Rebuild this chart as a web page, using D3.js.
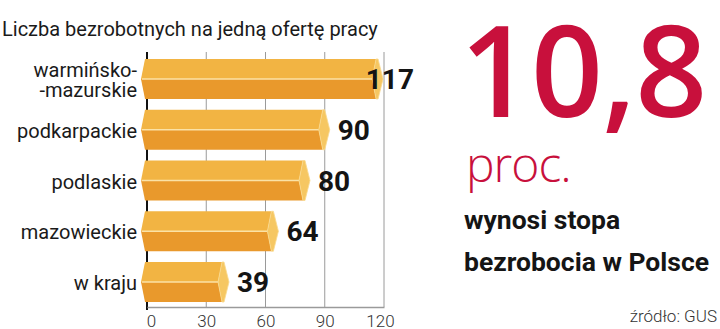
<!DOCTYPE html>
<html>
<head>
<meta charset="utf-8">
<script src="https://cdn.jsdelivr.net/npm/d3@7"></script>
<style>
  html, body { margin: 0; padding: 0; background: #fff; }
  svg { display: block; }
</style>
</head>
<body>
<svg id="chart" width="720" height="329"></svg>
<script>
// Unemployed persons per one job offer
const categories = [["warmińsko-", "-mazurskie"], ["podkarpackie"], ["podlaskie"], ["mazowieckie"], ["w kraju"]];
const values = [117, 90, 80, 64, 39];
const tickValues = [0, 30, 60, 90, 120];
const tickLabels = ["0", "30", "60", "90", "120"];

const title = "Liczba bezrobotnych na jedną ofertę pracy";
const headline = "10,8";
const unit = "proc.";
const caption = ["wynosi stopa", "bezrobocia w Polsce"];
const source = "źródło: GUS";

const svg = d3.select("#chart");
const FONT = "Roboto, 'Open Sans', sans-serif";

const x = d3.scaleLinear().domain([0, 120]).range([147, 384]);
const keys = categories.map((c, i) => i);
const y = d3.scaleBand().domain(keys).range([59, 302]).paddingInner(0.212);

// title
svg.append("text")
  .attr("x", 2).attr("y", 36)
  .attr("font-family", FONT).attr("font-size", 20)
  .attr("fill", "#1a1a1a")
  .text(title);

// vertical grid lines
const gTop = 52, gBottom = 307;
svg.append("g").selectAll("line")
  .data(tickValues.slice(1))
  .join("line")
  .attr("x1", d => x(d)).attr("x2", d => x(d))
  .attr("y1", gTop).attr("y2", gBottom)
  .attr("stroke", "#9a9a9a").attr("stroke-width", 1);

// zero line
svg.append("line")
  .attr("x1", x(0)).attr("x2", x(0))
  .attr("y1", gTop).attr("y2", gBottom + 3)
  .attr("stroke", "#111").attr("stroke-width", 2);

// bottom axis
const axis = d3.axisBottom(x).tickValues(tickValues)
  .tickFormat((d, i) => tickLabels[i]).tickSize(0).tickPadding(0);
const ax = svg.append("g").attr("transform", `translate(0,${gBottom})`).call(axis);
ax.select(".domain").attr("stroke", "#9a9a9a").attr("stroke-width", 1.5);
ax.selectAll("text")
  .attr("font-family", FONT).attr("font-size", 17).attr("font-weight", 300)
  .attr("fill", "#333").attr("y", 20).attr("dy", 0)
  .attr("dx", (d, i) => i === 0 ? 4 : (i === tickValues.length - 1 ? -4 : 0));

// bars: chevron-shaped body split in two shades with a light end cap
const bars = svg.append("g").selectAll("g")
  .data(values)
  .join("g");

const x0 = x(0) - 2;
function pts(arr) { return arr.map(p => p.join(",")).join(" "); }

bars.append("polygon")
  .attr("fill", "#f2b443")
  .attr("points", (d, i) => {
    const t = y(i), m = t + y.bandwidth() / 2, xv = x(d);
    return pts([[x0, t], [xv - 2, t], [xv - 6, m], [x0 - 4, m]]);
  });
bars.append("polygon")
  .attr("fill", "#e9992c")
  .attr("points", (d, i) => {
    const t = y(i), m = t + y.bandwidth() / 2, b = t + y.bandwidth(), xv = x(d);
    return pts([[x0 - 4, m], [xv - 6, m], [xv - 2, b], [x0, b]]);
  });
bars.append("line")
  .attr("x1", x0 - 3).attr("x2", d => x(d) - 6)
  .attr("y1", (d, i) => y(i) + y.bandwidth() / 2)
  .attr("y2", (d, i) => y(i) + y.bandwidth() / 2)
  .attr("stroke", "#fbe2a6").attr("stroke-width", 1.5);
bars.append("polygon")
  .attr("fill", "#f6c762")
  .attr("stroke", "#f9d98e").attr("stroke-width", 0.8)
  .attr("points", (d, i) => {
    const t = y(i), m = t + y.bandwidth() / 2, b = t + y.bandwidth(), xv = x(d);
    return pts([[xv - 2, t], [xv, t], [xv + 5, m], [xv, b], [xv - 2, b], [xv - 6, m]]);
  });

// value labels
const rightLimit = 414;
bars.append("text")
  .attr("font-family", FONT).attr("font-size", 28).attr("font-weight", 700)
  .attr("fill", "#141414")
  .attr("y", (d, i) => y(i) + y.bandwidth() / 2 + 10)
  .text(d => d)
  .each(function (d) {
    const w = this.getComputedTextLength();
    let xs = x(d) + 13;
    if (xs + w > rightLimit) xs = rightLimit - w;
    d3.select(this).attr("x", xs);
  });

// category labels
const lineH = 20;
svg.append("g").selectAll("text")
  .data(categories)
  .join("text")
  .attr("font-family", FONT).attr("font-size", 20)
  .attr("fill", "#1a1a1a").attr("text-anchor", "end")
  .attr("x", 137)
  .attr("y", (d, i) => y(i) + y.bandwidth() / 2 + 8 - (d.length - 1) * lineH / 2)
  .each(function (d) {
    d3.select(this).selectAll("tspan").data(d).join("tspan")
      .attr("x", 137).attr("dy", (t, j) => j === 0 ? 0 : lineH).text(t => t);
  });

// headline figure
svg.append("text")
  .attr("x", 460).attr("y", 117)
  .attr("font-family", "'Open Sans', sans-serif").attr("font-size", 126).attr("font-weight", 600)
  .attr("letter-spacing", -1)
  .attr("fill", "#c8103c")
  .text(headline);

svg.append("text")
  .attr("x", 466).attr("y", 182)
  .attr("font-family", "'Open Sans', sans-serif").attr("font-size", 48).attr("font-weight", 300)
  .attr("letter-spacing", -1)
  .attr("fill", "#c8103c")
  .text(unit);

svg.append("g").selectAll("text")
  .data(caption)
  .join("text")
  .attr("x", 464).attr("y", (d, i) => 229 + i * 42)
  .attr("font-family", FONT).attr("font-size", 26.5).attr("font-weight", 700)
  .attr("fill", "#151515")
  .text(d => d);

svg.append("text")
  .attr("x", 717).attr("y", 322).attr("text-anchor", "end")
  .attr("font-family", FONT).attr("font-size", 17).attr("font-weight", 300)
  .attr("fill", "#333")
  .text(source);
</script>
</body>
</html>
